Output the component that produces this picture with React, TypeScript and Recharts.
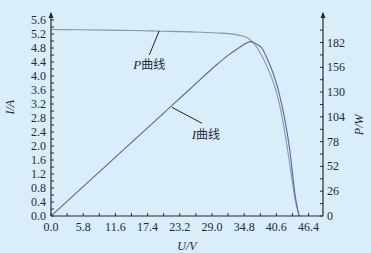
import React from 'react';
import { ComposedChart, Line, XAxis, YAxis, ReferenceLine, ReferenceDot } from 'recharts';

const voltage = [0, 5, 10, 15, 20, 25, 30, 32, 34, 35, 36, 37, 38, 39, 40, 41, 42, 43, 44, 44.7];
const current = [5.33, 5.32, 5.31, 5.3, 5.28, 5.26, 5.23, 5.21, 5.16, 5.12, 5.02, 4.84, 4.57, 4.24, 3.84, 3.3, 2.5, 1.5, 0.45, 0];
const power = [0, 26.6, 53.2, 79.8, 106.4, 133, 159.5, 169, 177, 181, 183, 180.5, 176, 164.5, 150, 131, 105, 70, 21, 0];

const xTicks = [0, 2.9, 5.8, 8.7, 11.6, 14.5, 17.4, 20.3, 23.2, 26.1, 29.0, 31.9, 34.8, 37.7, 40.6, 43.5, 46.4];
const xLabels = ['0.0', '5.8', '11.6', '17.4', '23.2', '29.0', '34.8', '40.6', '46.4'];
const iTicks = [0, 0.2, 0.4, 0.6, 0.8, 1.0, 1.2, 1.4, 1.6, 1.8, 2.0, 2.2, 2.4, 2.6, 2.8, 3.0, 3.2, 3.4, 3.6, 3.8, 4.0, 4.2, 4.4, 4.6, 4.8, 5.0, 5.2, 5.4, 5.6, 5.8];
const iLabels = ['0.0', '0.4', '0.8', '1.2', '1.6', '2.0', '2.4', '2.8', '3.2', '3.6', '4.0', '4.4', '4.8', '5.2', '5.6'];
const pTicks = [0, 13, 26, 39, 52, 65, 78, 91, 104, 117, 130, 143, 156, 169, 182, 195, 213];
const pLabels = ['0', '26', '52', '78', '104', '130', '156', '182'];

const data = voltage.map((v, i) => ({ v, i: current[i], p: power[i] }));

const FONT = '"Liberation Serif", "DejaVu Serif", "Noto Sans CJK SC", serif';
const AXIS = '#2a2a2a';
const TEXT = '#1e2a3a';

const fmtI = (n: number) => n.toFixed(1);
const fmtX = (n: number) => n.toFixed(1);

const XTick = (props: any) => {
  const { x, y, payload } = props;
  const lab = fmtX(payload.value);
  const show = xLabels.includes(lab);
  return (
    <g>
      <line x1={x} y1={y} x2={x} y2={y - 3} stroke={AXIS} strokeWidth={1} />
      {show && (
        <text x={x} y={y + 15} textAnchor="middle" fontFamily={FONT} fontSize={12} fill={TEXT}>
          {lab}
        </text>
      )}
    </g>
  );
};

const LeftTick = (props: any) => {
  const { x, y, payload } = props;
  if (payload.value >= 5.75) {
    return <polygon points={`${x - 2.5},${y + 5} ${x},${y - 1} ${x + 2.5},${y + 5}`} fill={AXIS} />;
  }
  const lab = fmtI(payload.value);
  const show = iLabels.includes(lab);
  return (
    <g>
      <line x1={x} y1={y} x2={x + 3} y2={y} stroke={AXIS} strokeWidth={1} />
      {show && (
        <text x={x - 5} y={y + 4} textAnchor="end" fontFamily={FONT} fontSize={12} fill={TEXT}>
          {lab}
        </text>
      )}
    </g>
  );
};

const RightTick = (props: any) => {
  const { x, y, payload } = props;
  if (payload.value >= 210) {
    return <polygon points={`${x - 2.5},${y + 5} ${x},${y - 1} ${x + 2.5},${y + 5}`} fill={AXIS} />;
  }
  const lab = String(payload.value);
  const show = pLabels.includes(lab);
  return (
    <g>
      <line x1={x} y1={y} x2={x - 3} y2={y} stroke={AXIS} strokeWidth={1} />
      {show && (
        <text x={x + 4} y={y + 4} textAnchor="start" fontFamily={FONT} fontSize={12} fill={TEXT}>
          {lab}
        </text>
      )}
    </g>
  );
};

const makeLabel = (sym: string) => (props: any) => {
  const vb = props.viewBox || {};
  const cx = (vb.x ?? 0) + (vb.width ?? 0) / 2;
  const cy = (vb.y ?? 0) + (vb.height ?? 0) / 2;
  return (
    <text x={cx} y={cy + 5} textAnchor="middle" fontFamily={FONT} fontSize={13} fill={TEXT}>
      <tspan fontStyle="italic">{sym}</tspan>
      <tspan fontFamily='"Noto Sans CJK SC", sans-serif' fontSize={12}>曲线</tspan>
    </text>
  );
};

export default function App() {
  return (
    <div style={{ position: 'absolute', left: 0, top: 0, width: 371, height: 253, background: '#d9eef9' }}>
      <ComposedChart
        width={371}
        height={253}
        data={data}
        margin={{ top: 13, right: 0, left: 0, bottom: 0 }}
      >
        <XAxis
          dataKey="v"
          type="number"
          domain={[0, 49]}
          ticks={xTicks}
          interval={0}
          tick={<XTick />}
          tickLine={false}
          tickSize={0}
          tickMargin={0}
          axisLine={{ stroke: AXIS, strokeWidth: 1.2 }}
          height={37}
          allowDataOverflow
          label={{ value: 'U/V', position: 'insideBottom', offset: 3, fontFamily: FONT, fontSize: 12, fontStyle: 'italic', fill: TEXT }}
        />
        <YAxis
          yAxisId="left"
          orientation="left"
          type="number"
          domain={[0, 5.8]}
          ticks={iTicks}
          interval={0}
          tick={<LeftTick />}
          tickLine={false}
          tickSize={0}
          tickMargin={0}
          axisLine={{ stroke: AXIS, strokeWidth: 1.2 }}
          width={51}
          allowDataOverflow
          label={{ value: 'I/A', angle: -90, position: 'insideLeft', offset: 10, fontFamily: FONT, fontSize: 12, fontStyle: 'italic', fill: TEXT }}
        />
        <YAxis
          yAxisId="right"
          orientation="right"
          type="number"
          domain={[0, 213]}
          ticks={pTicks}
          interval={0}
          tick={<RightTick />}
          tickLine={false}
          tickSize={0}
          tickMargin={0}
          axisLine={{ stroke: AXIS, strokeWidth: 1.2 }}
          width={48}
          allowDataOverflow
          label={{ value: 'P/W', angle: -90, position: 'insideRight', offset: 12, fontFamily: FONT, fontSize: 12, fontStyle: 'italic', fill: TEXT }}
        />
        <Line
          yAxisId="left"
          type="monotone"
          dataKey="i"
          stroke="#7f9ba3"
          strokeWidth={1.1}
          dot={false}
          isAnimationActive={false}
        />
        <Line
          yAxisId="right"
          type="monotone"
          dataKey="p"
          stroke="#5a60b8"
          strokeWidth={1.1}
          dot={false}
          isAnimationActive={false}
        />
        <ReferenceLine
          yAxisId="left"
          segment={[{ x: 19.5, y: 5.29 }, { x: 17.7, y: 4.6 }]}
          stroke="#222"
          strokeWidth={1}
        />
        <ReferenceDot yAxisId="left" x={17.7} y={4.35} r={1} fill="none" stroke="none" label={makeLabel('P')} />
        <ReferenceLine
          yAxisId="right"
          segment={[{ x: 21.8, y: 114 }, { x: 27.2, y: 97.3 }]}
          stroke="#222"
          strokeWidth={1}
        />
        <ReferenceDot yAxisId="right" x={27.9} y={86} r={1} fill="none" stroke="none" label={makeLabel('I')} />
      </ComposedChart>
    </div>
  );
}
